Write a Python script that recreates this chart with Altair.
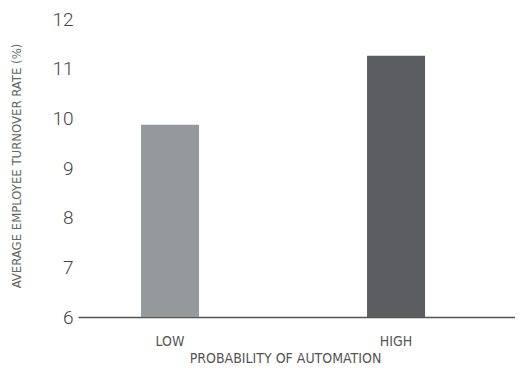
import altair as alt
import pandas as pd

categories = ["LOW", "HIGH"]
turnover = [9.87, 11.26]
bar_colors = ["#96999b", "#5c5d60"]

df = pd.DataFrame({"prob": categories, "rate": turnover})

narrow = "'DejaVu Sans Condensed', 'Liberation Sans Narrow', Roboto, sans-serif"

x = alt.X(
    "prob:N",
    sort=categories,
    scale=alt.Scale(paddingInner=0.7434, paddingOuter=0.3385, align=0.412),
    axis=alt.Axis(
        title="PROBABILITY OF AUTOMATION",
        labelAngle=0,
        ticks=False,
        tickSize=0,
        grid=False,
        domain=True,
        domainColor="#555555",
        domainWidth=1.3,
        labelFont=narrow,
        labelFontSize=14,
        labelColor="#555555",
        labelBaseline="alphabetic",
        labelPadding=28,
        titleFont=narrow,
        titleFontSize=14,
        titleFontWeight="normal",
        titleColor="#555555",
        titleBaseline="alphabetic",
        titleAlign="center",
        titleAnchor="start",
        titleX=207,
        titleY=45,
    ),
)

y = alt.Y(
    "rate:Q",
    scale=alt.Scale(domain=[6, 12], zero=False, nice=False),
    axis=alt.Axis(
        title="AVERAGE EMPLOYEE TURNOVER RATE (%)",
        values=[6, 7, 8, 9, 10, 11, 12],
        ticks=False,
        tickSize=0,
        domain=False,
        grid=False,
        labelFont="Roboto",
        labelFontWeight=300,
        labelFontSize=19,
        labelColor="#444444",
        labelPadding=5,
        labelBaseline="middle",
        titleFont=narrow,
        titleFontSize=13,
        titleFontWeight="normal",
        titleColor="#666666",
        titleAngle=270,
        titleAlign="center",
        titleBaseline="middle",
        titleAnchor="start",
        titleX=-62,
        titleY=146.5,
    ),
)

chart = (
    alt.Chart(df)
    .mark_bar()
    .encode(
        x=x,
        y=y,
        y2=alt.datum(6),
        color=alt.Color("prob:N", scale=alt.Scale(domain=categories, range=bar_colors), legend=None),
    )
    .properties(
        width=437,
        height=298,
        background="white",
        autosize=alt.AutoSizeParams(type="none"),
        padding={"left": 70, "top": 11, "right": 0, "bottom": 49},
    )
    .configure_view(strokeWidth=0)
)

chart.save("out.html", embed_options={"renderer": "svg", "actions": False})
